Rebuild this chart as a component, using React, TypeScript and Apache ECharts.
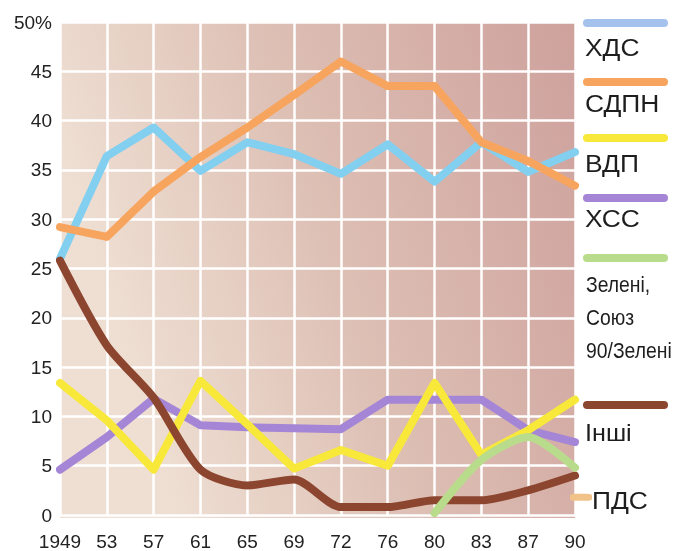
import React, { useEffect, useRef } from "react";
import * as echarts from "echarts";

const years = ["1949", "53", "57", "61", "65", "69", "72", "76", "80", "83", "87", "90"];
const yTicks = [0, 5, 10, 15, 20, 25, 30, 35, 40, 45, 50];

const cdu = [26, 36.4, 39.3, 34.9, 37.8, 36.6, 34.6, 37.6, 33.8, 37.8, 34.8, 36.8];
const spd = [29.2, 28.2, 32.8, 36.3, 39.3, 42.6, 46.0, 43.5, 43.5, 37.8, 35.9, 33.4];
const fdp = [13.4, 9.6, 4.6, 13.6, 9.2, 4.7, 6.6, 5.0, 13.4, 6.1, 8.6, 11.7];
const csu = [4.6, 7.9, 11.8, 9.1, 8.9, 8.8, 8.7, 11.7, 11.7, 11.7, 8.6, 7.4];
const greens = [null, null, null, null, null, null, null, null, 0.2, 5.6, 7.9, 4.8];
const others = [25.8, 17.2, 11.9, 4.6, 3.0, 3.6, 0.8, 0.8, 1.5, 1.5, 2.5, 4.0];
const pds = [null, null, null, null, null, null, null, null, null, null, null, 1.8];

const legendNames = ["ХДС", "СДПН", "ВДП", "ХСС", "Зелені,|Союз|90/Зелені", "Інші", "ПДС"];

export default function App() {
  const ref = useRef<HTMLDivElement>(null);
  useEffect(() => {
    if (!ref.current) return;
    const chart = echarts.init(ref.current, null, { renderer: "svg" });
    const font = "Liberation Sans, Arial, sans-serif";
    const C = {
      cdu: "#82cff0",
      spd: "#f7a55e",
      fdp: "#f7e83a",
      csu: "#a586d6",
      gr: "#b9dc8c",
      oth: "#8c4630",
      pds: "#f2c388",
    };
    const mkLine = (name: string, data: any[], color: string, z: number, smooth: number | boolean = false) => ({
      name,
      type: "line",
      data,
      smooth,
      symbol: "none",
      z,
      connectNulls: false,
      lineStyle: { color, width: 8, cap: "round", join: "round" },
      itemStyle: { color },
    });

    const bar = (y: number, color: string) => ({
      type: "rect",
      shape: { x: 583, y: y - 4, width: 85, height: 8, r: 4 },
      style: { fill: color },
    });
    const txt = (x: number, y: number, text: string, size: number, sx = 1) => ({
      type: "text",
      x,
      y,
      scaleX: sx,
      style: { text, fill: "#1e1e1e", font: `${size}px ${font}`, verticalAlign: "middle" },
    });
    const greenLines = legendNames[4].split("|");

    chart.setOption({
      animation: false,
      grid: { left: 60, right: 109, top: 22, bottom: 33 },
      graphic: [
        {
          type: "rect",
          z: -10,
          shape: { x: 60, y: 22, width: 515, height: 496 },
          style: {
            fill: new echarts.graphic.LinearGradient(0, 0.3, 1, 0, [
              { offset: 0, color: "#efdfd3" },
              { offset: 0.45, color: "#ddbfb4" },
              { offset: 1, color: "#cea19c" },
            ]),
          },
        },
        bar(23, "#a4c2ec"),
        txt(585, 47, legendNames[0], 24, 1.1),
        bar(82, "#f7a55e"),
        txt(585, 103, legendNames[1], 24, 1.1),
        bar(138, "#f7e83a"),
        txt(585, 163, legendNames[2], 24, 1.1),
        bar(198, "#a586d6"),
        txt(585, 218, legendNames[3], 24, 1.1),
        bar(258, "#b9dc8c"),
        txt(586, 284, greenLines[0], 22, 0.88),
        txt(586, 317, greenLines[1], 22, 0.88),
        txt(586, 350, greenLines[2], 22, 0.88),
        bar(405, "#8c4630"),
        txt(585, 433, legendNames[5], 24, 1.05),
        txt(592, 500, legendNames[6], 24, 1.1),
      ],
      xAxis: {
        type: "category",
        data: years,
        boundaryGap: false,
        axisLine: { show: false },
        axisTick: { show: false },
        axisLabel: { color: "#222", fontSize: 19, fontFamily: font, margin: 17, interval: 0, showMaxLabel: true },
        splitLine: { show: true, interval: 0, lineStyle: { color: "#ffffff", width: 2.5 } },
      },
      yAxis: {
        type: "value",
        min: 0,
        max: 50,
        interval: 5,
        axisLine: { show: false },
        axisTick: { show: false },
        axisLabel: {
          color: "#222",
          fontSize: 19,
          fontFamily: font,
          margin: 8,
          padding: [0, 0, 8, 0],
          formatter: (v: number) => (v === 50 ? "50%" : String(v)),
        },
        splitLine: { show: true, lineStyle: { color: "#ffffff", width: 2.5 } },
      },
      series: [
        mkLine("ХДС", cdu, C.cdu, 2),
        mkLine("СДПН", spd, C.spd, 3),
        mkLine("ХСС", csu, C.csu, 4),
        mkLine("ВДП", fdp, C.fdp, 5),
        mkLine("Інші", others, C.oth, 6, 0.25),
        mkLine("Зелені, Союз 90/Зелені", greens, C.gr, 7, 0.25),
        {
          name: "ПДС",
          type: "line",
          data: pds,
          symbol: "roundRect",
          symbolSize: [22, 7],
          symbolOffset: [6, 0],
          z: 8,
          clip: false,
          itemStyle: { color: C.pds },
          lineStyle: { color: C.pds, width: 0 },
        },
      ],
    });
    return () => chart.dispose();
  }, []);
  return <div ref={ref} style={{ position: "fixed", left: 0, top: 0, width: 684, height: 551 }} />;
}
